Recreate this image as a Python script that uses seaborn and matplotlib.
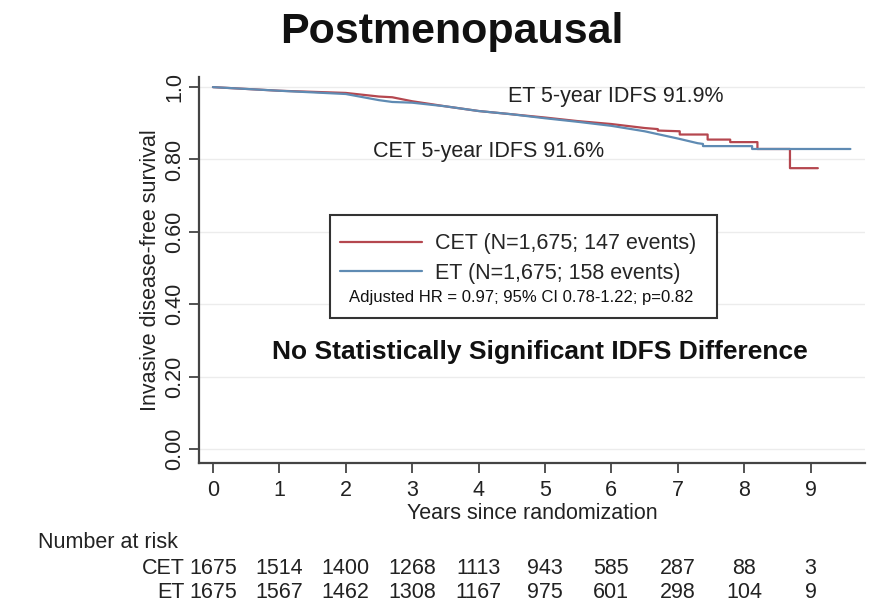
import numpy as np
import pandas as pd
import matplotlib
matplotlib.use("Agg")
import matplotlib.pyplot as plt
from matplotlib.patches import Rectangle
import seaborn as sns

# Kaplan-Meier estimates (years since randomization, survival probability).
# Repeated times mark the visible drops of the late, sparse part of the curves.
cet_time = [0, 1.0, 2.0, 2.5, 2.7, 3.0, 3.5, 4.0, 4.5, 5.0, 5.5, 6.0, 6.5,
            6.7, 6.7, 7.03, 7.03, 7.45, 7.45, 7.79, 7.79, 8.2, 8.2, 8.69,
            8.69, 9.11]
cet_surv = [1.0, 0.990, 0.984, 0.974, 0.972, 0.961, 0.947, 0.934, 0.925,
            0.916, 0.906, 0.898, 0.887, 0.884, 0.880, 0.878, 0.869, 0.869,
            0.855, 0.855, 0.848, 0.848, 0.829, 0.829, 0.776, 0.776]

et_time = [0, 1.0, 2.0, 2.5, 2.7, 3.0, 3.5, 4.0, 4.5, 5.0, 5.5, 6.0, 6.5,
           7.0, 7.3, 7.38, 7.38, 8.12, 8.12, 9.6]
et_surv = [1.0, 0.990, 0.981, 0.964, 0.959, 0.957, 0.947, 0.934, 0.925,
           0.914, 0.904, 0.893, 0.878, 0.858, 0.845, 0.843, 0.837, 0.837,
           0.829, 0.829]

arms = ["CET", "ET"]
arm_labels = ["CET (N=1,675; 147 events)", "ET (N=1,675; 158 events)"]
arm_colors = {"CET": "#b5474f", "ET": "#5f8bb3"}

risk_years = list(range(10))
risk_cet = [1675, 1514, 1400, 1268, 1113, 943, 585, 287, 88, 3]
risk_et = [1675, 1567, 1462, 1308, 1167, 975, 601, 298, 104, 9]

x_ticks = list(range(10))
y_ticks = [0.0, 0.2, 0.4, 0.6, 0.8, 1.0]
y_ticklabels = ["0.00", "0.20", "0.40", "0.60", "0.80", "1.0"]

km = pd.concat([
    pd.DataFrame({"years": cet_time, "survival": cet_surv, "arm": "CET"}),
    pd.DataFrame({"years": et_time, "survival": et_surv, "arm": "ET"}),
], ignore_index=True)

sns.set_style("white")
plt.rcParams["font.family"] = ["Liberation Sans", "DejaVu Sans"]

fig = plt.figure(figsize=(8.72, 6.16), dpi=100)
ax = fig.add_axes([199 / 872, 1 - 463 / 616, 666 / 872, 386 / 616])

for y in y_ticks:
    ax.axhline(y, color="#ececec", lw=1.0, zorder=0)

sns.lineplot(data=km, x="years", y="survival", hue="arm", hue_order=arms,
             palette=arm_colors, estimator=None, sort=False,
             linewidth=1.6, legend=False, ax=ax)

ax.set_xlim(-0.21, 9.82)
ax.set_ylim(-0.039, 1.028)
ax.set_xticks(x_ticks)
ax.set_xticklabels([str(t) for t in x_ticks], fontsize=15.5, color="#222222")
ax.set_yticks(y_ticks)
ax.set_yticklabels(y_ticklabels, fontsize=15.5, color="#222222",
                   rotation=90, va="center")
ax.tick_params(axis="both", direction="out", length=7, width=1.3,
               color="#444444", bottom=True, left=True)
ax.tick_params(axis="x", pad=5)
ax.tick_params(axis="y", pad=3)
for side in ["top", "right"]:
    ax.spines[side].set_visible(False)
for side in ["left", "bottom"]:
    ax.spines[side].set_color("#444444")
    ax.spines[side].set_linewidth(1.6)

ax.set_xlabel("Years since randomization", fontsize=15.5, color="#222222",
              labelpad=2)
ax.set_ylabel("Invasive disease-free survival", fontsize=15.5,
              color="#222222", labelpad=2)

# Legend box with hazard-ratio note
ax.add_patch(Rectangle((0.197, 0.3756), 0.581, 0.267, transform=ax.transAxes,
                       facecolor="white", edgecolor="#333333", lw=1.5,
                       zorder=3))
handles = ax.get_lines()[-2:]
leg = ax.legend(handles, arm_labels, loc="upper left",
                bbox_to_anchor=(0.212, 0.595), frameon=False,
                borderaxespad=0, borderpad=0, handlelength=3.8,
                handletextpad=0.6, labelspacing=0.4, fontsize=15.5)
leg.set_zorder(4)
ax.text(0.4835, 0.4275, "Adjusted HR = 0.97; 95% CI 0.78-1.22; p=0.82",
        transform=ax.transAxes, ha="center", va="center", fontsize=12,
        color="#111111", zorder=5)

ax.text(6.06, 0.975, "ET 5-year IDFS 91.9%", ha="center", va="center",
        fontsize=15.5, color="#222222")
ax.text(4.15, 0.823, "CET 5-year IDFS 91.6%", ha="center", va="center",
        fontsize=15.5, color="#222222")
ax.text(4.92, 0.267, "No Statistically Significant IDFS Difference",
        ha="center", va="center", fontsize=19, fontweight="bold",
        color="#111111")

fig.text(452 / 872, 1 - 32 / 616, "Postmenopausal", ha="center", va="center",
         fontsize=31, fontweight="bold", color="#111111")

# Number-at-risk table under the x axis
trans = matplotlib.transforms.blended_transform_factory(ax.transData,
                                                        fig.transFigure)
fig.text(38 / 872, 1 - 543 / 616, "Number at risk", ha="left", va="center",
         fontsize=15.5, color="#222222")
for row_y, name, counts in [(569, "CET", risk_cet), (593, "ET", risk_et)]:
    fig.text(185 / 872, 1 - row_y / 616, name, ha="right", va="center",
             fontsize=15.5, color="#222222")
    for yr, n in zip(risk_years, counts):
        ax.text(yr, 1 - row_y / 616, str(n), transform=trans, ha="center",
                va="center", fontsize=15.5, color="#222222", clip_on=False)

fig.savefig("out.png", dpi=100)
